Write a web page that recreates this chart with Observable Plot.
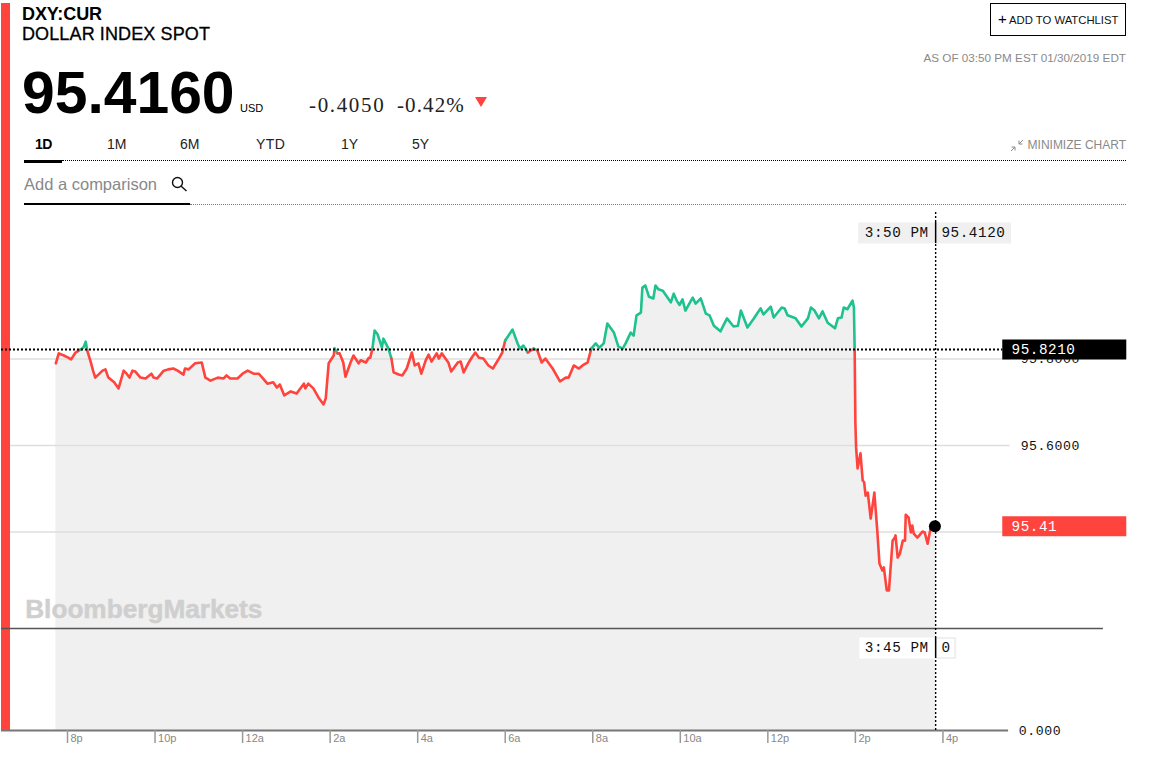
<!DOCTYPE html>
<html>
<head>
<meta charset="utf-8">
<script src="https://cdn.jsdelivr.net/npm/d3@7"></script>
<script src="https://cdn.jsdelivr.net/npm/@observablehq/plot@0.6"></script>
<style>
html,body{margin:0;padding:0;background:#fff;}
body{width:1154px;height:781px;overflow:hidden;position:relative;font-family:"Liberation Sans",Arial,sans-serif;color:#000;}
#bar{position:absolute;left:1px;top:3px;width:9px;height:727px;background:#ff433d;z-index:0;}
#head{position:relative;height:206px;z-index:1;}
#head>*{position:absolute;white-space:nowrap;}
#chart{position:relative;z-index:1;height:555px;}
#chart svg{display:block;background:transparent;}
g[font-family*="Mono"] text{letter-spacing:.55px;}
.tab{top:136px;font-size:14px;line-height:16px;color:#222;letter-spacing:-.1px;}
.chg{top:94px;font-family:"Liberation Serif",serif;font-size:21px;line-height:22px;color:#222;}
.dot{height:0;border-top:1px dotted #000;}
.grey{color:#8a8a8a;line-height:13px;}
</style>
</head>
<body>
<div id="bar"></div>
<div id="head">
  <div style="left:22px;top:4px;font-size:18px;line-height:20px;font-weight:700;letter-spacing:-.1px;">DXY:CUR</div>
  <div style="left:22px;top:24px;font-size:18px;line-height:20px;letter-spacing:.12px;-webkit-text-stroke:.3px #000;">DOLLAR INDEX SPOT</div>
  <div style="left:22px;top:60px;font-size:58.8px;line-height:66px;font-weight:700;">95.4160</div>
  <div style="left:240px;top:102px;font-size:11px;line-height:13px;">USD</div>
  <div class="chg" style="left:309px;letter-spacing:1.65px;">-0.4050</div>
  <div class="chg" style="left:397px;letter-spacing:1.1px;">-0.42%</div>
  <svg style="left:474px;top:96px;" width="14" height="12"><polygon points="1,1 13,1 7,11" fill="#ff433d"/></svg>
  <div class="tab" style="left:35px;font-weight:700;color:#000;letter-spacing:-.6px;">1D</div>
  <div class="tab" style="left:107px;">1M</div>
  <div class="tab" style="left:180px;">6M</div>
  <div class="tab" style="left:256px;letter-spacing:.4px;">YTD</div>
  <div class="tab" style="left:341px;">1Y</div>
  <div class="tab" style="left:412px;">5Y</div>
  <div style="left:24px;top:160px;width:38px;height:3px;background:#000;"></div>
  <div class="dot" style="left:62px;top:160px;width:1064px;"></div>
  <div style="left:24px;top:175px;font-size:16.5px;line-height:19px;color:#888;">Add a comparison</div>
  <svg style="left:171px;top:176px;" width="17" height="16"><circle cx="6.5" cy="6.5" r="5" fill="none" stroke="#111" stroke-width="1.4"/><line x1="10.2" y1="10.2" x2="15.5" y2="15" stroke="#111" stroke-width="1.4"/></svg>
  <div style="left:24px;top:203px;width:166px;height:2px;background:#000;"></div>
  <div class="dot" style="left:190px;top:204px;width:936px;border-top-color:#777;"></div>
  <div style="left:990px;top:3px;width:134px;height:31px;border:1.5px solid #000;"></div>
  <div style="left:998px;top:11px;font-size:15px;line-height:15px;">+</div>
  <div style="left:1009px;top:14px;font-size:11.3px;line-height:13px;color:#111;">ADD TO WATCHLIST</div>
  <div class="grey" style="right:28px;top:51px;font-size:11.7px;">AS OF 03:50 PM EST 01/30/2019 EDT</div>
  <svg style="left:1010px;top:139px;" width="14" height="13"><path d="M1 12 L5 8 M1.5 8 H5 V11.5 M13 1 L9 5 M9 1.5 V5 H12.5" fill="none" stroke="#8a8a8a" stroke-width="1"/></svg>
  <div class="grey" style="right:28px;top:139px;font-size:12px;">MINIMIZE CHART</div>
</div>
<div id="chart"></div>
<script>
// Minutes after 8 PM (Jan 29, 2019) and the DXY index level at each of them
const minutes = [-16,-12,-5,1,5,11,18,22,25,27,32,35,38,48,52,56,64,70,77,81,85,89,93,100,107,115,118,123,132,138,145,151,159,161,166,175,184,189,196,206,214,218,223,233,240,247,255,262,267,274,282,287,291,297,306,314,324,326,330,337,344,351,354,358,365,366,370,373,378,381,388,392,399,402,409,413,415,418,421,425,431,433,440,444,447,454,459,465,472,476,481,485,491,495,499,506,509,513,522,526,535,539,543,550,554,559,564,570,577,583,590,596,600,610,617,620,625,631,639,644,650,655,665,669,675,683,687,694,701,706,713,718,724,729,735,740,749,755,761,765,772,776,780,786,788,792,797,803,806,810,816,827,831,835,839,843,847,851,857,861,868,875,880,886,895,904,913,919,923,932,941,950,954,964,968,979,983,987,998,1006,1015,1019,1024,1030,1035,1042,1052,1056,1061,1064,1069,1076,1078,1079,1080,1081,1083,1087,1090,1092,1094,1097,1101,1106,1110,1113,1117,1119,1123,1126,1131,1134,1135,1138,1141,1145,1148,1149,1153,1156,1158,1160,1165,1172,1175,1179,1183,1190];
const levels = [95.790,95.813,95.808,95.803,95.799,95.815,95.822,95.827,95.840,95.820,95.792,95.773,95.757,95.773,95.776,95.757,95.746,95.732,95.773,95.766,95.757,95.773,95.771,95.757,95.755,95.766,95.757,95.755,95.773,95.776,95.778,95.773,95.764,95.778,95.776,95.790,95.792,95.757,95.750,95.757,95.755,95.762,95.755,95.755,95.766,95.773,95.766,95.766,95.757,95.743,95.746,95.734,95.741,95.716,95.725,95.720,95.743,95.732,95.743,95.732,95.711,95.695,95.709,95.790,95.808,95.824,95.813,95.813,95.792,95.759,95.792,95.808,95.790,95.797,95.792,95.803,95.803,95.824,95.866,95.857,95.827,95.847,95.824,95.801,95.769,95.764,95.762,95.778,95.815,95.785,95.790,95.766,95.797,95.810,95.794,95.813,95.801,95.813,95.792,95.771,95.792,95.794,95.769,95.792,95.803,95.815,95.803,95.801,95.785,95.778,95.797,95.815,95.843,95.868,95.836,95.824,95.831,95.815,95.824,95.820,95.792,95.801,95.778,95.766,95.748,95.757,95.757,95.785,95.778,95.785,95.792,95.824,95.836,95.826,95.836,95.882,95.861,95.829,95.824,95.836,95.861,95.854,95.901,95.907,95.965,95.970,95.944,95.940,95.970,95.961,95.958,95.931,95.951,95.935,95.925,95.938,95.912,95.924,95.942,95.928,95.940,95.905,95.901,95.877,95.864,95.894,95.875,95.877,95.912,95.873,95.894,95.917,95.903,95.921,95.896,95.919,95.917,95.901,95.894,95.875,95.894,95.919,95.912,95.894,95.910,95.884,95.871,95.894,95.896,95.919,95.915,95.935,95.919,95.820,95.651,95.595,95.547,95.582,95.519,95.515,95.484,95.491,95.431,95.491,95.403,95.327,95.311,95.318,95.265,95.265,95.380,95.387,95.392,95.341,95.350,95.380,95.380,95.440,95.433,95.399,95.415,95.396,95.387,95.401,95.399,95.373,95.408,95.412];
const tickMinutes = [0,120,240,360,480,600,720,840,960,1080,1200];
const tickLabels = ["8p","10p","12a","2a","4a","6a","8a","10a","12p","2p","4p"];
const gridLevels = [95.8,95.6,95.4];
const axisLabels = ["95.6000","95.8000"];
const previousClose = 95.821;
const lastLevel = 95.412;
const lastMinute = 1190;
const floorLevel = 94.941;
const tickFoot = 94.911;
const volumeLevel = 95.1769;
const topTipLevel = 96.0913;
const lowTipLevel = 95.1318;
const halfPixel = 0.0012;

const series = minutes.map((m,i)=>({m, v:levels[i], side: levels[i]>=previousClose ? "up":"down"}));
const ticks = tickMinutes.map((m,i)=>({m, label:tickLabels[i]}));
const mono = '"Liberation Mono","DejaVu Sans Mono",monospace';
const band = (level,x1,x2,color,w)=>Plot.ruleY([level],{x1:()=>x1,x2:()=>x2,stroke:color,strokeWidth:w});

const chart = Plot.plot({
  width:1154, height:555,
  marginTop:0, marginRight:0, marginBottom:31, marginLeft:0,
  style:{background:"transparent",overflow:"visible"},
  x:{domain:[-91.85,1490],axis:null},
  y:{domain:[floorLevel,96.1526],axis:null},
  color:{domain:["up","down"],range:["#1ec28f","#ff433d"]},
  marks:[
    Plot.areaY(series,{x:"m",y1:()=>floorLevel,y2:"v",fill:"#f0f0f0"}),
    Plot.ruleY(gridLevels,{x1:()=>-78,x2:()=>1292,stroke:"#dedede",strokeWidth:1.5}),
    Plot.text(["BloombergMarkets"],{x:()=>-58,y:()=>95.2195,text:d=>d,textAnchor:"start",fontFamily:"Liberation Sans",fontWeight:700,fontSize:26.2,fill:"#cfcfcf",stroke:"#cfcfcf",strokeWidth:0.5}),
    band(volumeLevel,-90.5,1420,"#555",1.5),
    Plot.line(series,{x:"m",y:"v",z:null,stroke:"side",strokeWidth:2.6,curve:"linear"}),
    Plot.ruleY([floorLevel],{x1:()=>-90.5,x2:()=>1290,stroke:"#777",strokeWidth:2}),
    Plot.ruleX(ticks,{x:"m",y1:()=>floorLevel,y2:()=>tickFoot,stroke:"#999",strokeWidth:1.5}),
    Plot.text(ticks,{x:"m",y:()=>floorLevel,text:"label",dx:3,dy:8,textAnchor:"start",fontFamily:"Liberation Sans",fontSize:11,fill:"#888"}),
    Plot.text(axisLabels,{x:()=>1306.5,y:d=>+d,text:d=>d,textAnchor:"start",fontFamily:mono,fontSize:13.2,fill:"#111"}),
    Plot.text(["0.000"],{x:()=>1304,y:()=>floorLevel-halfPixel,text:d=>d,textAnchor:"start",fontFamily:mono,fontSize:13.2,fill:"#111"}),
    Plot.ruleX([lastMinute],{y1:()=>floorLevel,y2:()=>96.1387,stroke:"#000",strokeWidth:1.4,strokeDasharray:"2,2"}),
    Plot.ruleY([previousClose+halfPixel],{x1:()=>-90.5,x2:()=>1282,stroke:"#000",strokeWidth:2,strokeDasharray:"2,2"}),
    band(previousClose+halfPixel,1282,1452,"#000",20),
    Plot.text([previousClose],{x:()=>1294,y:d=>d+halfPixel,text:d=>d.toFixed(4),textAnchor:"start",fontFamily:mono,fontSize:14.3,fill:"#fff"}),
    band(lastLevel+halfPixel,1282,1452,"#ff433d",20),
    Plot.text([lastLevel],{x:()=>1294,y:d=>d+halfPixel,text:d=>d.toFixed(2),textAnchor:"start",fontFamily:mono,fontSize:14.3,fill:"#fff"}),
    Plot.dot([lastLevel],{x:()=>lastMinute-1,y:d=>d+halfPixel,r:6,fill:"#000"}),
    band(topTipLevel,1084.5,1294,"#f0f0f0",21),
    Plot.ruleX([lastMinute],{y1:()=>topTipLevel-0.0243,y2:()=>topTipLevel+0.0243,stroke:"#000",strokeWidth:1.5}),
    Plot.text(["3:50 PM"],{x:()=>1180.5,y:()=>topTipLevel+2*halfPixel,text:d=>d,textAnchor:"end",fontFamily:mono,fontSize:14.3,fill:"#111"}),
    Plot.text([lastLevel],{x:()=>1198,y:()=>topTipLevel+2*halfPixel,text:d=>d.toFixed(4),textAnchor:"start",fontFamily:mono,fontSize:14.3,fill:"#111"}),
    band(lowTipLevel,1086,1190,"#fff",21),
    band(lowTipLevel,1190,1219,"#f0f0f0",22),
    band(lowTipLevel,1192,1216,"#fff",18),
    Plot.ruleX([lastMinute],{y1:()=>lowTipLevel-0.0243,y2:()=>lowTipLevel+0.0243,stroke:"#000",strokeWidth:1.5}),
    Plot.text(["3:45 PM"],{x:()=>1180.5,y:()=>lowTipLevel+2*halfPixel,text:d=>d,textAnchor:"end",fontFamily:mono,fontSize:14.3,fill:"#111"}),
    Plot.text(["0"],{x:()=>1198,y:()=>lowTipLevel+2*halfPixel,text:d=>d,textAnchor:"start",fontFamily:mono,fontSize:14.3,fill:"#111"})
  ]
});
document.getElementById("chart").appendChild(chart);
</script>
</body>
</html>
